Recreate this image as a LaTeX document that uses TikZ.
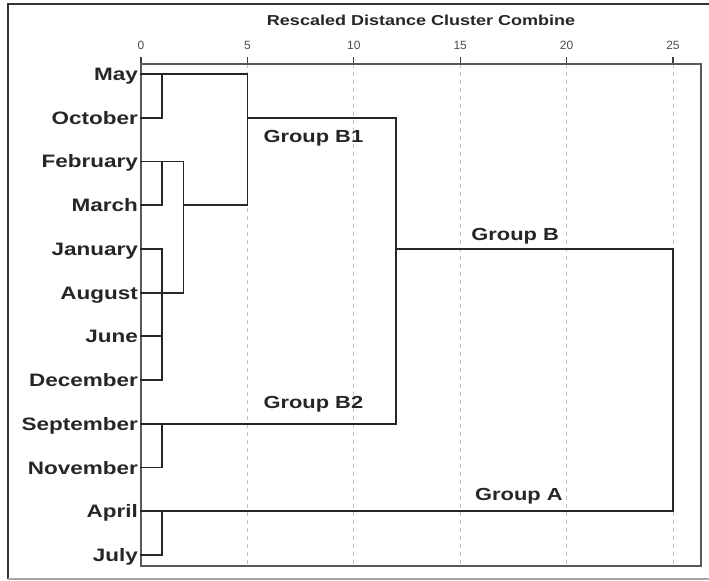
\documentclass[tikz,border=0pt]{standalone}
\usepackage{fontspec}
\setmainfont{Liberation Sans}
\newfontfamily\widefont[FakeStretch=1.25]{Liberation Sans}

\tikzset{
	month/.style={anchor=base east, inner sep=0pt, font=\widefont\bfseries\fontsize{18}{18}\selectfont, text=black!85},
	grouplbl/.style={anchor=base, inner sep=0pt, font=\widefont\bfseries\fontsize{17.5}{17.5}\selectfont, text=black!85},
	ticklbl/.style={anchor=base, inner sep=0pt, font=\fontsize{12}{12}\selectfont, text=black!70},
	link/.style={line width=1.8pt, black!85, line cap=rect},
	frame/.style={line width=1.3pt, black!65},
	grid/.style={line width=0.7pt, black!25, dash pattern=on 4pt off 4pt},
}

\begin{document}
\begin{tikzpicture}[x=21.28pt, y=-43.73pt]
		\useasboundingbox (-6.626,-1.692) rectangle (26.692,11.594);

		% outer box
		\draw[line width=2pt, black!80] (27,-1.601) -- (-6.25,-1.601) -- (-6.25,11.548);
		\draw[line width=1.2pt, black!35] (-6.25,11.548) -- (27,11.548);

		\node[anchor=base, inner sep=0pt, font=\widefont\bfseries\fontsize{14.4}{14.4}\selectfont, text=black!85] (title) at (13.16,-1.098) {Rescaled Distance Cluster Combine};

		% scale and grid
		\coordinate (nw) at (0,-0.229);
		\coordinate (se) at (26.32,11.25);
		\foreach \d in {5,10,...,25}
			\draw[grid] (\d,-0.229) -- (\d,11.25);
		\foreach \d in {0,5,...,25} {
			\draw[line width=1.2pt, black!75] (\d,-0.229) -- (\d,-0.389);
			\node[ticklbl] (t\d) at (\d,-0.563) {\d};
		}
		\draw[frame] (nw) rectangle (se);

		% leaves
		\foreach \m [count=\i from 0] in {May,October,February,March,January,August,June,December,September,November,April,July} {
			\node[month] (m\i) at (-0.14,\i+0.149) {\m};
			\coordinate (l\i) at (0,\i);
		}

		\coordinate (d1) at (1,0);
		\coordinate (d2) at (2,0);
		\coordinate (d5) at (5,0);
		\coordinate (d12) at (12,0);
		\coordinate (d25) at (25,0);

		% clusters
		\draw[link] (l1) -| (l0 -| d1);
		\draw[link] (l3) -| (l2 -| d1);
		\draw[link] (l2) -| (l5 -| d2) -- (l5);
		\draw[link] (l4) -| (l7 -| d1) -- (l7);
		\draw[link] (l6) -- (l6 -| d1);
		\draw[link] (l0) -| (l3 -| d5) -- (l3 -| d2);
		\draw[link] (l9) -| (l8 -| d1);
		\draw[link] (l1 -| d5) -| (l8 -| d12) -- (l8);
		\draw[link] (l11) -| (l10 -| d1);
		\draw[link] (l4 -| d12) -| (l10 -| d25) -- (l10);

		\node[grouplbl] (gB1) at (8.1,1.569) {Group B1};
		\node[grouplbl] (gB) at (17.58,3.81) {Group B};
		\node[grouplbl] (gB2) at (8.1,7.645) {Group B2};
		\node[grouplbl] (gA) at (17.76,9.756) {Group A};
	\end{tikzpicture}
\end{document}
